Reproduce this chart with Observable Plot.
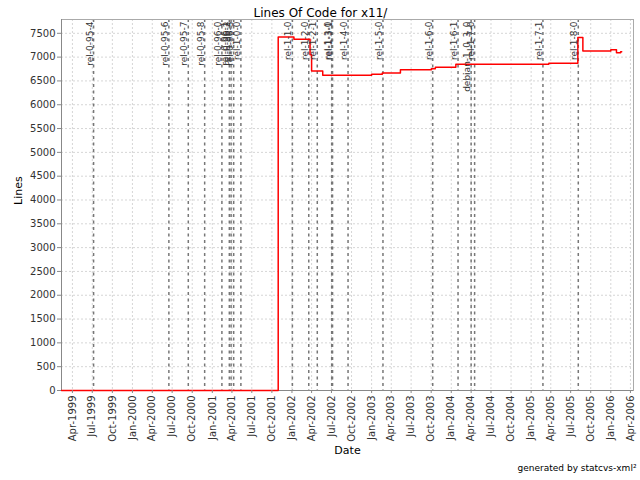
<!DOCTYPE html>
<html>
<head>
<meta charset="utf-8">
<script src="https://cdn.jsdelivr.net/npm/d3@7"></script>
<script src="https://cdn.jsdelivr.net/npm/@observablehq/plot@0.6"></script>
<style>
  html, body { margin: 0; padding: 0; background: #fff; }
</style>
</head>
<body>
<div id="chart"></div>
<script>
// Lines of code (step series)
const locDates = ["1999-02-10","2001-10-30","2002-01-10","2002-03-25","2002-04-01","2002-05-22","2003-01-01","2003-02-19","2003-05-13","2003-10-02","2003-10-20","2004-01-22","2005-03-23","2005-08-03","2005-08-26","2006-01-01","2006-01-27","2006-02-15","2006-02-20"];
const locValues = [0,7420,7375,7052,6708,6618,6638,6666,6737,6758,6786,6849,6870,7410,7128,7157,7094,7115,7115];

// Tags
const tagNames = ["rel-0-95-4","rel-0-95-6","rel-0-95-7","rel-0-95-8","rel-0-96-0","rel-0-96-1","rel-0-96-2","rel-0-96-3","rel-1-0-0","rel-1-1-0","rel-1-2-0","rel-1-2-1","rel-1-3-0","rel-1-3-1","rel-1-4-0","rel-1-5-0","rel-1-6-0","rel-1-6-1","debian-1_0_3_0","rel-1-7-0","rel-1-7-1","rel-1-8-0"];
const tagDates = ["1999-07-07","2000-06-16","2000-09-13","2000-11-27","2001-02-14","2001-03-20","2001-03-28","2001-04-09","2001-05-12","2002-01-03","2002-03-19","2002-04-27","2002-07-02","2002-07-06","2002-09-15","2003-02-22","2003-10-08","2004-02-01","2004-04-01","2004-04-17","2005-02-24","2005-08-05"];

// Axes
const xDomain = ["1999-02-10", "2006-04-15"];
const yDomain = [0, 7790];
const yTicks = d3.range(0, 7501, 500);
const xTicks = d3.utcMonth.every(3).range(new Date("1999-04-01"), new Date("2006-04-02"));

const title = "Lines Of Code for x11/";
const xLabel = "Date";
const yLabel = "Lines";
const footer = "generated by statcvs-xml²";

const loc = locDates.map((d, i) => ({date: new Date(d), value: locValues[i]}));
const tags = tagDates.map((d, i) => ({date: new Date(d), name: tagNames[i]}));
const fmt = d3.utcFormat("%b-%Y");

const chart = Plot.plot({
  width: 640,
  height: 480,
  marginTop: 19,
  marginLeft: 61,
  marginRight: 7,
  marginBottom: 90,
  style: {fontFamily: "DejaVu Sans", background: "#fff", color: "#333"},
  x: {type: "utc", domain: xDomain.map(d => new Date(d)), label: null},
  y: {domain: yDomain, label: null},
  marks: [
    Plot.gridX(xTicks, {stroke: "#d6d6d6", strokeOpacity: 1, strokeDasharray: "2,2"}),
    Plot.gridY(yTicks, {stroke: "#d6d6d6", strokeOpacity: 1, strokeDasharray: "2,2"}),
    Plot.ruleX(tags, {x: "date", stroke: "#777", strokeWidth: 1.5, strokeDasharray: "3,3.5"}),
    Plot.frame({stroke: "#aaa"}),
    Plot.ruleX([new Date(xDomain[0])], {stroke: "#888"}),
    Plot.ruleY([0], {stroke: "#888"}),
    Plot.line(loc, {x: "date", y: "value", curve: "step-after", stroke: "#ff0000", strokeWidth: 1.5}),
    Plot.text(tags, {x: "date", text: "name", frameAnchor: "top", rotate: -90, textAnchor: "end", lineAnchor: "bottom", dy: 2, dx: -1, fontSize: 9, fill: "#333"}),
    Plot.axisY(yTicks, {tickSize: 4, tickPadding: 2, fontSize: 10, tickFormat: "d", stroke: "#888", fill: "#333"}),
    Plot.axisX(xTicks, {tickSize: 3, tickPadding: 2, fontSize: 10, tickRotate: -90, tickFormat: fmt, stroke: "#888", fill: "#333"}),
    Plot.text([title], {frameAnchor: "top", dx: -27, dy: -11, fontSize: 12, fill: "#000"}),
    Plot.text([xLabel], {frameAnchor: "bottom", dy: 63, fontSize: 11, fill: "#000"}),
    Plot.text([yLabel], {frameAnchor: "left", dx: -43, rotate: -90, fontSize: 11, fill: "#000"}),
    Plot.text([footer], {frameAnchor: "bottom-right", textAnchor: "end", dx: 3, dy: 80, fontSize: 9, fill: "#000"})
  ]
});
document.getElementById("chart").appendChild(chart);
</script>
</body>
</html>
